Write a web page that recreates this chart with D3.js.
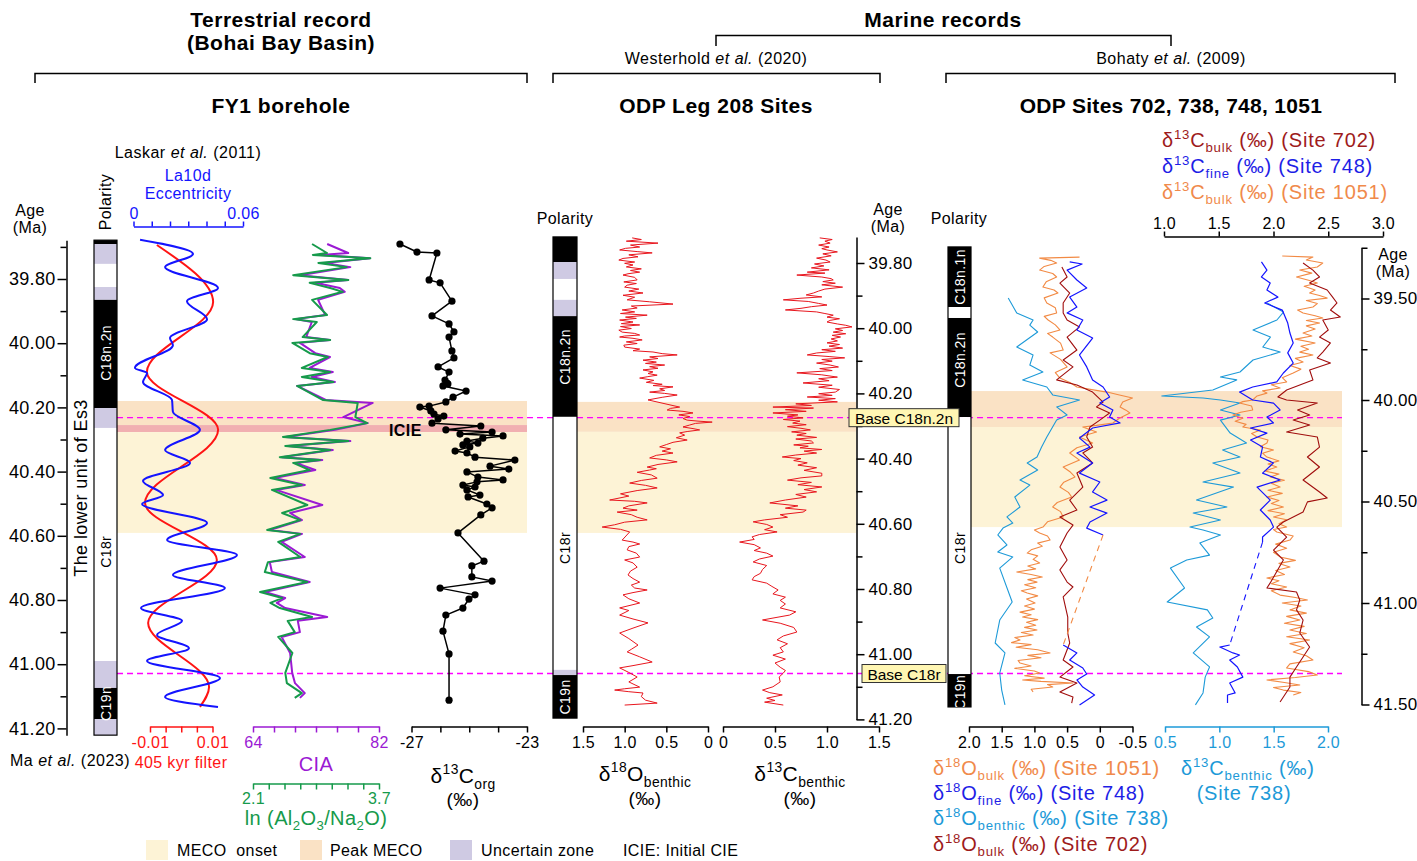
<!DOCTYPE html>
<html><head><meta charset="utf-8">
<script src="https://cdn.jsdelivr.net/npm/d3@7"></script>
<style>body{margin:0;background:#fff;} svg{display:block;}</style>
</head><body>
<script>
const FONT = "'Liberation Sans', Arial, sans-serif";

// ---------------- DATA ----------------
// Left panel (FY1 borehole) – ages in Ma
const eccAge = [39.678,39.722,39.763,39.828,39.869,39.925,39.984,40.006,40.077,40.093,40.121,40.177,40.214,40.270,40.333,40.373,40.429,40.473,40.501,40.560,40.613,40.660,40.722,40.763,40.825,40.865,40.909,40.950,40.990,41.043,41.102,41.133];
const eccVal = [0.0036,0.0326,0.0173,0.0463,0.0293,0.0403,0.0200,0.0216,0.0008,0.0074,0.0052,0.0211,0.0216,0.0364,0.0173,0.0310,0.0052,0.0162,0.0047,0.0403,0.0184,0.0567,0.0216,0.0501,0.0041,0.0266,0.0129,0.0304,0.0074,0.0474,0.0173,0.0463];
const filtAge = [39.694,39.872,40.090,40.270,40.498,40.675,40.872,41.071,41.133];
const filtVal = [-0.0078,0.0102,-0.0110,0.0118,-0.0116,0.0114,-0.0106,0.0089,0.0060];

const ciaAge = [39.691,39.719,39.725,39.735,39.750,39.763,39.788,39.803,39.812,39.828,39.840,39.865,39.912,39.925,39.934,39.981,39.990,39.999,40.031,40.043,40.077,40.090,40.105,40.121,40.133,40.177,40.186,40.230,40.249,40.270,40.292,40.305,40.320,40.333,40.355,40.364,40.373,40.395,40.420,40.442,40.457,40.504,40.529,40.551,40.582,40.594,40.619,40.666,40.682,40.713,40.744,40.775,40.794,40.809,40.825,40.853,40.865,40.900,40.915,40.965,41.027,41.059,41.090,41.105];
const ciaVal = [74.6,77.6,73.6,80.7,74.3,77.9,70.7,77.6,72.9,76.4,77.1,73.3,74.3,70.1,72.4,71.6,75.0,70.7,72.9,75.0,72.1,75.4,72.4,75.7,70.3,74.4,81.1,76.9,80.4,75.7,68.6,77.9,69.0,75.4,68.1,73.9,70.1,72.9,67.1,71.4,67.3,73.9,69.3,71.0,66.4,71.0,68.1,71.4,66.4,66.7,72.1,65.7,68.6,67.4,68.6,74.6,70.4,70.7,68.1,69.3,69.6,70.0,71.4,70.7];
const lnVal = [2.85,3.04,2.86,3.59,2.93,3.29,2.61,3.31,2.82,3.08,3.24,2.85,3.04,2.61,2.91,2.73,3.08,2.60,2.82,3.05,2.72,3.08,2.72,3.12,2.66,2.99,3.43,3.40,3.55,3.08,2.48,3.31,2.51,3.08,2.44,2.95,2.61,2.82,2.32,2.72,2.34,2.79,2.47,2.70,2.28,2.70,2.42,2.70,2.29,2.25,2.79,2.19,2.47,2.32,2.44,2.85,2.54,2.63,2.42,2.60,2.51,2.53,2.72,2.63];

const corgAge = [39.691,39.716,39.719,39.803,39.812,39.869,39.915,39.940,39.965,39.981,40.024,40.046,40.074,40.090,40.115,40.124,40.127,40.133,40.149,40.168,40.183,40.196,40.199,40.211,40.221,40.227,40.236,40.249,40.258,40.270,40.277,40.283,40.289,40.296,40.305,40.311,40.317,40.323,40.336,40.342,40.355,40.364,40.383,40.392,40.401,40.417,40.426,40.432,40.442,40.448,40.457,40.473,40.479,40.501,40.513,40.535,40.591,40.679,40.694,40.728,40.741,40.763,40.784,40.797,40.825,40.847,40.897,40.968,41.112];
const corgVal = [-27.40,-26.81,-26.12,-26.39,-26.01,-25.60,-26.29,-25.70,-25.53,-25.70,-25.60,-25.53,-26.08,-25.70,-25.84,-25.77,-25.74,-25.91,-25.11,-25.56,-25.81,-26.39,-26.71,-26.33,-26.22,-25.88,-26.08,-26.29,-24.60,-25.81,-24.21,-25.32,-23.83,-24.53,-25.08,-24.70,-25.22,-24.98,-25.49,-25.08,-24.80,-23.42,-24.28,-23.63,-25.08,-24.70,-23.83,-24.73,-25.22,-24.80,-25.08,-24.63,-25.04,-24.39,-24.21,-24.60,-25.39,-24.49,-24.91,-24.91,-24.21,-26.01,-24.80,-25.01,-25.22,-25.81,-25.91,-25.70,-25.70];

// Middle panel (ODP Leg 208)
const o18MAge = [39.723,39.728,39.733,39.739,39.745,39.751,39.755,39.760,39.765,39.769,39.775,39.781,39.786,39.791,39.797,39.801,39.806,39.812,39.818,39.823,39.828,39.833,39.837,39.844,39.852,39.858,39.863,39.868,39.874,39.880,39.886,39.892,39.899,39.905,39.913,39.919,39.926,39.932,39.938,39.944,39.950,39.955,39.960,39.966,39.970,39.975,39.981,39.986,39.990,39.995,40.001,40.006,40.012,40.016,40.021,40.024,40.027,40.031,40.036,40.042,40.047,40.052,40.058,40.064,40.069,40.073,40.078,40.082,40.088,40.093,40.098,40.104,40.108,40.113,40.118,40.123,40.128,40.134,40.139,40.144,40.149,40.153,40.160,40.166,40.172,40.176,40.180,40.186,40.191,40.196,40.200,40.205,40.212,40.220,40.242,40.246,40.251,40.255,40.260,40.266,40.271,40.277,40.282,40.285,40.288,40.292,40.297,40.303,40.308,40.312,40.317,40.321,40.328,40.336,40.343,40.350,40.357,40.364,40.370,40.377,40.383,40.390,40.398,40.404,40.410,40.418,40.426,40.431,40.435,40.442,40.450,40.460,40.467,40.475,40.482,40.490,40.498,40.508,40.515,40.527,40.531,40.536,40.545,40.552,40.558,40.564,40.572,40.580,40.588,40.595,40.603,40.610,40.617,40.625,40.650,40.656,40.662,40.670,40.680,40.690,40.702,40.711,40.720,40.733,40.745,40.757,40.768,40.779,40.788,40.797,40.803,40.811,40.818,40.830,40.843,40.858,40.866,40.880,40.892,40.904,40.920,40.935,40.952,40.972,40.985,40.993,41.008,41.024,41.035,41.042,41.056,41.070,41.085,41.101,41.106,41.110,41.115,41.119,41.130,41.141,41.150,41.156];
const o18MVal = [0.91,0.80,0.98,0.60,0.93,0.82,0.99,1.06,0.85,0.67,0.95,0.84,1.02,1.07,0.88,1.00,0.90,0.98,0.80,0.93,0.82,0.96,1.02,0.88,0.85,1.01,0.86,0.97,1.00,0.83,0.95,0.78,1.02,0.88,0.97,0.70,0.42,0.92,0.85,1.03,0.88,1.05,0.73,0.99,0.86,1.06,0.90,1.04,0.82,1.05,0.92,1.07,1.03,0.88,0.82,1.00,1.06,0.90,0.79,0.98,0.85,1.01,1.00,0.82,0.90,0.66,0.55,0.37,0.70,0.60,0.78,0.62,0.75,0.52,0.70,0.60,0.78,0.66,0.72,0.61,0.73,0.82,0.65,0.74,0.55,0.66,0.42,0.58,0.52,0.70,0.52,0.37,0.55,0.72,0.34,0.45,0.49,0.30,0.18,0.35,0.22,0.30,0.25,0.12,-0.05,0.15,0.22,0.30,0.18,0.10,0.25,0.34,0.28,0.38,0.25,0.42,0.50,0.58,0.45,0.55,0.42,0.62,0.70,0.50,0.37,0.60,0.73,0.62,0.70,0.85,0.68,0.61,0.80,0.94,0.75,0.61,0.85,1.05,0.95,1.18,0.88,0.73,0.95,1.02,0.85,1.09,0.92,0.85,0.73,1.00,1.12,1.27,1.05,0.94,1.03,0.90,0.82,0.95,0.97,0.86,0.82,1.00,0.90,0.85,0.93,0.96,0.90,0.82,0.92,0.88,0.73,0.90,1.02,0.95,0.82,1.06,0.95,1.06,0.90,0.72,0.90,1.06,0.95,0.84,0.92,0.97,0.82,0.67,0.90,1.06,0.95,0.85,0.95,0.82,1.00,1.12,0.95,0.78,0.80,0.75,0.61,1.00];
const c13MAge = [39.723,39.728,39.733,39.739,39.745,39.751,39.756,39.760,39.766,39.772,39.778,39.785,39.791,39.797,39.803,39.809,39.815,39.821,39.828,39.831,39.837,39.843,39.848,39.852,39.857,39.862,39.867,39.874,39.880,39.886,39.892,39.898,39.904,39.908,39.913,39.918,39.924,39.929,39.934,39.939,39.944,39.950,39.955,39.960,39.966,39.971,39.976,39.981,39.987,39.991,39.996,40.002,40.007,40.012,40.017,40.022,40.027,40.033,40.039,40.045,40.050,40.055,40.061,40.066,40.071,40.076,40.082,40.087,40.091,40.096,40.101,40.107,40.113,40.119,40.124,40.130,40.137,40.143,40.150,40.155,40.161,40.168,40.175,40.181,40.188,40.196,40.201,40.206,40.211,40.216,40.221,40.226,40.232,40.237,40.242,40.245,40.250,40.255,40.260,40.266,40.270,40.275,40.280,40.285,40.291,40.296,40.302,40.307,40.312,40.318,40.323,40.328,40.335,40.340,40.346,40.352,40.358,40.362,40.367,40.372,40.377,40.383,40.389,40.395,40.400,40.406,40.413,40.420,40.428,40.436,40.445,40.453,40.459,40.466,40.473,40.480,40.487,40.495,40.502,40.510,40.518,40.527,40.536,40.545,40.552,40.558,40.564,40.572,40.580,40.588,40.594,40.602,40.610,40.618,40.625,40.633,40.640,40.648,40.656,40.664,40.674,40.682,40.690,40.699,40.708,40.717,40.728,40.740,40.752,40.762,40.772,40.782,40.792,40.803,40.815,40.825,40.835,40.846,40.858,40.870,40.880,40.888,40.895,40.905,40.918,40.932,40.944,40.956,40.968,40.980,40.993,41.003,41.015,41.027,41.040,41.050,41.058,41.070,41.085,41.100,41.110,41.118,41.125,41.135,41.142,41.147,41.156];
const c13MVal = [0.93,1.05,0.98,1.03,0.92,1.02,0.95,1.00,1.10,0.96,1.04,0.90,0.99,1.03,0.88,0.97,0.85,1.02,0.81,0.98,0.71,0.95,1.04,1.06,0.96,1.08,0.95,1.15,0.98,0.92,0.87,0.80,0.95,0.75,0.58,0.82,0.92,1.00,0.85,0.75,0.60,0.90,0.98,1.06,1.00,1.12,1.03,1.00,1.10,1.18,1.24,1.08,1.15,1.06,1.18,1.05,1.13,1.04,1.10,1.00,1.12,1.02,1.15,0.95,1.08,0.90,0.81,1.02,1.17,0.95,1.05,0.90,1.03,1.11,0.93,1.05,0.71,0.95,1.10,0.92,1.02,0.77,1.05,0.92,1.12,1.08,0.92,1.05,0.81,1.08,0.92,1.10,0.70,0.85,0.48,0.87,0.60,0.80,0.48,0.72,0.62,0.77,0.58,0.74,0.67,0.80,0.62,0.75,0.84,0.66,0.80,0.71,0.90,0.70,0.85,0.87,0.68,0.82,0.74,0.95,0.78,0.90,0.70,0.57,0.75,0.68,0.81,0.72,0.90,0.78,0.95,0.95,0.75,0.62,0.85,0.72,0.95,0.78,0.90,0.70,0.80,0.60,0.45,0.72,0.60,0.80,0.77,0.55,0.62,0.40,0.29,0.42,0.48,0.40,0.52,0.35,0.28,0.30,0.16,0.30,0.36,0.30,0.42,0.48,0.35,0.29,0.42,0.38,0.36,0.30,0.28,0.42,0.47,0.53,0.48,0.60,0.55,0.60,0.55,0.70,0.64,0.50,0.38,0.55,0.68,0.71,0.58,0.52,0.62,0.55,0.58,0.48,0.60,0.50,0.55,0.60,0.58,0.54,0.55,0.48,0.38,0.45,0.57,0.42,0.50,0.40,0.58];

// Right panel (ODP Sites 702, 738, 748, 1051)
const o18_738Age = [39.498,39.571,39.606,39.631,39.665,39.739,39.778,39.828,39.862,39.901,39.936,39.975,40.000,40.034,40.074,40.099,40.182,40.232,40.281,40.310,40.345,40.394,40.419,40.478,40.527,40.576,40.606,40.631,40.665,40.714,40.749,40.773,40.828,40.995,41.084,41.197,41.246,41.345,41.429,41.502];
const o18_738 = [1.40,1.27,1.02,1.07,0.95,1.27,1.02,1.07,0.87,1.18,0.81,0.72,0.31,0.66,0.50,0.66,0.81,0.89,0.96,1.11,0.95,1.22,1.07,1.30,1.22,1.42,1.33,1.48,1.56,1.42,1.56,1.33,1.53,1.34,1.53,1.60,1.45,1.53,1.50,1.45];
const o18_1051Age = [39.296,39.301,39.312,39.325,39.342,39.360,39.377,39.394,39.418,39.443,39.458,39.473,39.497,39.522,39.546,39.571,39.588,39.606,39.630,39.655,39.672,39.690,39.720,39.754,39.768,39.800,39.837,39.865,39.892,39.915,39.936,39.950,39.961,39.975,39.990,40.010,40.034,40.050,40.064,40.090,40.113,40.125,40.133,40.158,40.182,40.212,40.235,40.261,40.296,40.330,40.355,40.379,40.405,40.429,40.455,40.478,40.505,40.527,40.550,40.576,40.600,40.626,40.640,40.655,40.670,40.690,40.705,40.720,40.738,40.754,40.768,40.785,40.803,40.818,40.832,40.847,40.860,40.872,40.885,40.897,40.910,40.925,40.940,40.951,40.965,40.980,41.000,41.015,41.030,41.045,41.058,41.069,41.082,41.095,41.110,41.120,41.133,41.145,41.158,41.170,41.182,41.195,41.205,41.218,41.230,41.246,41.258,41.270,41.283,41.296,41.310,41.322,41.335,41.345,41.358,41.370,41.379,41.386,41.394,41.402,41.414,41.425,41.438];
const o18_1051 = [0.31,0.92,0.75,0.66,0.85,0.92,0.72,0.66,0.82,0.87,0.70,0.64,0.85,0.81,0.68,0.66,0.85,0.79,0.68,0.61,0.80,0.72,0.60,0.56,0.76,0.60,0.50,0.68,0.61,0.45,0.35,0.10,-0.11,-0.30,-0.50,-0.35,-0.31,-0.40,-0.46,-0.30,-0.20,0.05,0.26,0.05,0.31,0.11,0.35,0.46,0.31,0.56,0.45,0.38,0.55,0.61,0.48,0.43,0.65,0.72,0.60,0.56,0.80,0.87,1.00,0.92,0.80,0.76,0.95,0.88,1.05,1.11,0.95,1.02,0.92,1.10,0.98,1.27,1.05,0.88,1.10,0.96,1.15,0.98,1.20,1.11,0.95,1.12,0.99,1.15,1.00,1.22,1.05,1.18,0.95,1.12,0.98,1.15,0.96,1.20,1.02,1.30,1.22,1.35,1.05,1.28,0.95,0.76,1.10,0.90,1.25,1.22,1.05,1.30,1.00,0.92,1.15,0.85,1.18,0.90,0.41,0.80,0.72,1.05,1.02];
const o18_702Age = [39.345,39.394,39.424,39.473,39.522,39.571,39.606,39.640,39.690,39.754,39.803,39.837,39.901,39.926,39.961,40.010,40.034,40.064,40.099,40.133,40.182,40.232,40.261,40.310,40.360,40.429,40.493,40.542,40.576,40.616,40.655,40.724,40.788,40.837,40.897,40.921,40.970,41.069,41.148,41.197,41.281,41.315,41.365,41.394,41.438,41.463,41.493];
const o18_702 = [0.58,0.50,0.61,0.46,0.56,0.56,0.50,0.31,0.50,0.35,0.56,0.41,0.66,0.35,0.11,-0.05,0.05,-0.15,0.00,0.15,0.20,0.11,0.26,0.11,0.35,0.26,0.46,0.35,0.61,0.41,0.50,0.61,0.50,0.61,0.50,0.41,0.56,0.49,0.49,0.46,0.56,0.41,0.61,0.35,0.61,0.41,0.43];
const o18_748Age = [39.320,39.330,39.360,39.409,39.448,39.493,39.542,39.571,39.606,39.655,39.695,39.778,39.837,39.901,39.936,39.985,40.015,40.049,40.084,40.113,40.138,40.187,40.232,40.261,40.310,40.360,40.404,40.453,40.493,40.527,40.557,40.601,40.631,40.665,40.900,41.207,41.246,41.281,41.320,41.350,41.379,41.414,41.453,41.502];
const o18_748 = [0.46,0.27,0.50,0.35,0.20,0.46,0.35,0.50,0.26,0.35,0.11,0.31,0.20,0.11,-0.05,-0.15,0.00,-0.20,-0.15,-0.31,0.11,0.31,0.15,0.35,0.11,0.31,0.00,0.11,-0.11,0.15,-0.11,0.15,0.20,-0.05,null,0.56,0.35,0.46,0.26,0.20,0.35,0.26,0.08,0.31];
const c13_748Age = [39.320,39.360,39.394,39.424,39.458,39.493,39.522,39.557,39.621,39.670,39.719,39.768,39.818,39.867,39.911,39.936,39.961,40.000,40.015,40.049,40.084,40.113,40.138,40.163,40.197,40.232,40.281,40.310,40.360,40.394,40.429,40.493,40.542,40.591,40.626,40.675,40.700,40.900,41.207,41.217,41.246,41.256,41.281,41.315,41.365,41.394,41.443,41.453,41.493];
const c13_748 = [1.89,1.94,1.89,1.97,1.94,2.04,1.92,2.08,2.13,2.15,2.18,2.13,2.18,2.09,2.03,1.81,1.69,1.81,2.00,2.06,1.94,2.00,1.79,1.94,1.79,1.90,1.88,2.00,1.90,2.06,1.85,1.97,1.88,1.97,2.00,1.90,1.90,null,1.60,1.51,1.63,1.69,1.60,1.67,1.72,1.60,1.65,1.58,1.58];
const c13_738Age = [39.522,39.567,39.606,39.655,39.690,39.739,39.764,39.803,39.862,39.887,39.901,39.951,39.980,39.990,40.000,40.015,40.049,40.074,40.099,40.163,40.212,40.246,40.281,40.310,40.360,40.404,40.429,40.493,40.527,40.557,40.591,40.626,40.640,40.665,40.704,40.764,40.788,40.828,40.926,40.995,41.034,41.074,41.118,41.167,41.246,41.315,41.365,41.443,41.502];
const c13_738 = [1.44,1.59,1.53,1.31,1.47,1.40,1.56,1.31,1.19,1.01,1.16,0.94,0.47,0.85,1.01,1.19,1.01,1.19,1.01,1.10,1.25,1.03,1.19,0.94,1.19,0.85,1.13,0.79,1.07,0.76,1.01,0.73,0.85,1.01,0.82,0.91,0.70,0.55,0.68,0.52,0.89,0.94,0.79,0.91,0.76,0.91,0.87,0.85,0.78];
const c13_1051Age = [39.291,39.296,39.310,39.325,39.345,39.360,39.375,39.394,39.410,39.424,39.440,39.458,39.473,39.485,39.498,39.510,39.525,39.542,39.557,39.571,39.585,39.596,39.608,39.621,39.635,39.650,39.670,39.685,39.700,39.719,39.735,39.750,39.764,39.778,39.795,39.813,39.830,39.848,39.867,39.890,39.911,39.925,39.941,39.955,39.966,39.980,40.000,40.008,40.015,40.030,40.049,40.060,40.074,40.090,40.105,40.120,40.133,40.148,40.165,40.182,40.197,40.212,40.230,40.246,40.262,40.281,40.300,40.315,40.330,40.350,40.365,40.379,40.395,40.410,40.429,40.445,40.460,40.478,40.495,40.510,40.527,40.545,40.560,40.576,40.590,40.610,40.626,40.638,40.650,40.670,40.690,40.710,40.730,40.750,40.773,40.790,40.805,40.823,40.840,40.860,40.877,40.890,40.905,40.921,40.940,40.961,40.973,40.985,41.000,41.015,41.034,41.050,41.066,41.084,41.100,41.115,41.133,41.150,41.166,41.182,41.200,41.220,41.241,41.260,41.281,41.300,41.320,41.338,41.355,41.367,41.379,41.392,41.404,41.416,41.429,41.441,41.453];
const c13_1051 = [2.08,2.36,2.30,2.45,2.40,2.24,2.35,2.21,2.32,2.40,2.28,2.38,2.33,2.42,2.49,2.30,2.40,2.36,2.22,2.27,2.38,2.45,2.30,2.42,2.30,2.38,2.27,2.35,2.20,2.38,2.25,2.32,2.24,2.36,2.20,2.27,2.15,2.25,2.18,2.08,2.12,1.98,2.06,1.90,1.94,1.85,1.81,1.72,1.69,1.80,1.81,1.70,1.63,1.72,1.65,1.75,1.72,1.88,1.80,1.85,1.95,1.94,1.88,2.00,1.90,1.94,2.05,1.95,2.03,1.92,2.05,1.97,2.10,1.98,2.06,1.95,2.08,1.94,2.05,1.98,2.09,1.95,2.10,2.00,2.12,2.05,2.12,2.00,2.03,2.18,2.15,2.02,2.12,2.00,2.06,2.20,2.05,2.15,2.02,2.10,1.94,2.05,1.98,2.12,1.98,2.06,2.20,2.31,2.08,2.25,2.15,2.30,2.12,2.24,2.10,2.28,2.15,2.30,2.12,2.33,2.15,2.28,2.18,2.30,2.36,2.15,2.12,2.32,2.40,2.20,1.94,2.10,2.24,2.00,2.09,2.25,2.18];
const c13_702Age = [39.325,39.360,39.394,39.424,39.458,39.493,39.522,39.557,39.591,39.606,39.655,39.690,39.719,39.764,39.793,39.818,39.852,39.901,39.951,39.985,40.000,40.015,40.049,40.074,40.099,40.123,40.158,40.182,40.232,40.281,40.330,40.394,40.453,40.483,40.502,40.552,40.601,40.626,40.675,40.739,40.788,40.901,40.926,40.946,40.985,41.034,41.084,41.148,41.217,41.266,41.315,41.365,41.414,41.488];
const c13_702 = [2.27,2.36,2.42,2.33,2.49,2.54,2.58,2.52,2.61,2.45,2.50,2.42,2.52,2.45,2.40,2.52,2.33,2.36,2.12,2.04,2.12,2.40,2.22,2.33,2.18,2.33,2.12,2.40,2.42,2.31,2.42,2.27,2.42,2.49,2.31,2.27,2.09,2.03,2.12,2.00,2.09,1.97,1.94,2.21,2.24,2.21,2.27,2.24,2.33,2.27,2.21,2.15,2.15,2.06];
// gap connectors (Site 748)
const gapO18Age = [40.665, 41.207], gapO18Val = [-0.05, 0.56];
const gapC13Age = [40.700, 41.207], gapC13Val = [1.90, 1.60];

// Polarity columns: [topAge, bottomAge, type]  n=normal, r=reversed, u=uncertain
const polL = [[39.679,39.691,"n"],[39.691,39.753,"u"],[39.753,39.825,"r"],[39.825,39.865,"u"],[39.865,40.202,"n"],[40.202,40.264,"u"],[40.264,40.990,"r"],[40.990,41.074,"u"],[41.074,41.171,"n"],[41.171,41.221,"u"]];
const polM = [[39.720,39.797,"n"],[39.797,39.849,"u"],[39.849,39.913,"r"],[39.913,39.963,"u"],[39.963,40.272,"n"],[40.272,41.048,"r"],[41.048,41.064,"u"],[41.064,41.196,"n"]];
const polR = [[39.246,39.542,"n"],[39.542,39.596,"r"],[39.596,40.084,"n"],[40.084,41.350,"r"],[41.350,41.512,"n"]];
const chronL = [["C18n.2n",40.03,"n"],["C18r",40.65,"r"],["C19n",41.122,"n"]];
const chronM = [["C18n.2n",40.088,"n"],["C18r",40.674,"r"],["C19n",41.131,"n"]];
const chronR = [["C18n.1n",39.394,"n"],["C18n.2n",39.803,"n"],["C18r",40.729,"r"],["C19n",41.44,"n"]];

// Shaded intervals per panel
const bandsL = [[40.180,40.255,"peak"],[40.255,40.277,"icie"],[40.277,40.591,"onset"]];
const bandsM = [[40.226,40.318,"peak"],[40.318,40.628,"onset"]];
const bandsR = [[39.956,40.133,"peak"],[40.133,40.626,"onset"]];
const baseAgesL = [40.232, 41.029];  // magenta boundaries in FY1 age frame
const baseLabels = ["Base C18n.2n", "Base C18r"];

const ageTicks = [39.8,40.0,40.2,40.4,40.6,40.8,41.0,41.2];
const ageMinorL = [39.7,39.9,40.1,40.3,40.5,40.7,40.9,41.1];
const ageMinorM = [39.9,40.1,40.3,40.5,40.7,40.9,41.1];
const ageTicksR = [39.5,40.0,40.5,41.0,41.5];
const ageMinorR = [39.25,39.75,40.25,40.75,41.25];

// ---------------- DRAW ----------------
const COL = {onset:"#fdf3d6", peak:"#fae2c5", u:"#cfcae3", icie:"#f1afb1", mag:"#ff00ff",
  ecc:"#1414ff", filt:"#ff1414", cia:"#9b1ad3", ln:"#169a4b", red:"#e8161e",
  dred:"#a00d0d", orange:"#f28a44", blue:"#1414ff", lblue:"#1d9ad8"};

const svg = d3.select("body").append("svg").attr("width",1417).attr("height",861)
  .attr("font-family",FONT);

const yL = d3.scaleLinear().domain([39.8,41.2]).range([279,728.4]);
const yM = d3.scaleLinear().domain([39.8,41.2]).range([263,719.4]);
const yR = d3.scaleLinear().domain([40.0,41.5]).range([400,704.5]);

const xEcc = d3.scaleLinear().domain([0,0.06]).range([133.5,243]);
const xFilt = d3.scaleLinear().domain([-0.01,0.01]).range([150,212.5]);
const xCIA = d3.scaleLinear().domain([64,82]).range([253,379]);
const xLn = d3.scaleLinear().domain([2.1,3.7]).range([253,379]);
const xCorg = d3.scaleLinear().domain([-27,-23]).range([411.5,527]);
const xO18M = d3.scaleLinear().domain([1.5,0]).range([583,708]);
const xC13M = d3.scaleLinear().domain([0,1.5]).range([723,879]);
const xO18R = d3.scaleLinear().domain([2.0,-0.5]).range([969,1132.5]);
const xC13T = d3.scaleLinear().domain([1,3]).range([1164,1383]);
const xC13B = d3.scaleLinear().domain([0.5,2.0]).range([1165,1328]);

function bands(list, ys, x0, x1){
  list.forEach(([a,b,k])=>{
    svg.append("rect").attr("x",x0).attr("y",ys(a)).attr("width",x1-x0).attr("height",ys(b)-ys(a)).attr("fill",COL[k]);
  });
}
bands(bandsL, yL, 117, 527);
bands(bandsM, yM, 577, 856);
bands(bandsR, yR, 971, 1342);

baseAgesL.forEach(a=>{
  svg.append("line").attr("x1",117).attr("x2",1342).attr("y1",yL(a)).attr("y2",yL(a))
    .attr("stroke",COL.mag).attr("stroke-width",1.3).attr("stroke-dasharray","6,4");
});

function polarity(list, chrons, ys, x, w, id){
  const g = svg.append("g");
  const top = ys(list[0][0]), bot = ys(list[list.length-1][1]);
  svg.append("clipPath").attr("id",id).append("rect").attr("x",x).attr("y",top).attr("width",w).attr("height",bot-top);
  list.forEach(([a,b,k])=>{
    g.append("rect").attr("x",x).attr("y",ys(a)).attr("width",w).attr("height",ys(b)-ys(a))
      .attr("fill", k==="n"?"#000":k==="u"?COL.u:"#fff");
  });
  g.append("rect").attr("x",x).attr("y",top).attr("width",w).attr("height",bot-top)
    .attr("fill","none").attr("stroke","#000").attr("stroke-width",1.2);
  const tg = g.append("g").attr("clip-path",`url(#${id})`);
  chrons.forEach(([t,a,k])=>{
    tg.append("text").attr("transform",`translate(${x+w/2+5},${ys(a)}) rotate(-90)`)
      .attr("text-anchor","middle").attr("font-size",14).attr("letter-spacing",0.4)
      .attr("fill",k==="n"?"#fff":"#000").text(t);
  });
}
polarity(polL, chronL, yL, 94, 23, "cpL");
polarity(polM, chronM, yM, 553, 24, "cpM");
polarity(polR, chronR, yR, 948, 23, "cpR");

function series(ages, vals, xs, ys, color, width, curve, dash){
  const pts = ages.map((a,i)=>[a, vals[i]]);
  const line = d3.line().defined(d=>d[1]!==null).x(d=>xs(d[1])).y(d=>ys(d[0])).curve(curve||d3.curveLinear);
  const p = svg.append("path").attr("d",line(pts)).attr("fill","none").attr("stroke",color)
    .attr("stroke-width",width).attr("stroke-linejoin","round");
  if(dash) p.attr("stroke-dasharray",dash);
  return p;
}
series(filtAge, filtVal, xFilt, yL, COL.filt, 2, d3.curveMonotoneY);
series(eccAge, eccVal, xEcc, yL, COL.ecc, 2, d3.curveMonotoneY);
series(ciaAge, ciaVal, xCIA, yL, COL.cia, 2);
series(ciaAge, lnVal, xLn, yL, COL.ln, 2);
series(corgAge, corgVal, xCorg, yL, "#000", 1.5);
svg.append("g").selectAll("circle").data(corgAge.map((a,i)=>[a,corgVal[i]])).join("circle")
  .attr("cx",d=>xCorg(d[1])).attr("cy",d=>yL(d[0])).attr("r",3.6).attr("fill","#000");

series(o18MAge, o18MVal, xO18M, yM, COL.red, 1);
series(c13MAge, c13MVal, xC13M, yM, COL.red, 1);

series(o18_738Age, o18_738, xO18R, yR, COL.lblue, 1.1);
series(o18_1051Age, o18_1051, xO18R, yR, COL.orange, 1.1);
series(o18_702Age, o18_702, xO18R, yR, COL.dred, 1.1);
series(o18_748Age, o18_748, xO18R, yR, COL.blue, 1.2);
series(gapO18Age, gapO18Val, xO18R, yR, COL.orange, 1.1, null, "6,5");
series(c13_738Age, c13_738, xC13B, yR, COL.lblue, 1.1);
series(c13_1051Age, c13_1051, xC13T, yR, COL.orange, 1.1);
series(c13_702Age, c13_702, xC13T, yR, COL.dred, 1.1);
series(c13_748Age, c13_748, xC13T, yR, COL.blue, 1.2);
series(gapC13Age, gapC13Val, xC13T, yR, COL.blue, 1.1, null, "6,5");

function addAxis(axis, tx, ty, color, fs, noDomain){
  const g = svg.append("g").attr("transform",`translate(${tx},${ty})`).call(axis);
  g.attr("font-family",FONT).attr("font-size",fs);
  g.select(".domain").attr("stroke",color).attr("stroke-width",1.5);
  if(noDomain) g.select(".domain").remove();
  g.selectAll(".tick line").attr("stroke",color).attr("stroke-width",1.5);
  g.selectAll(".tick text").attr("fill",color).attr("letter-spacing",0.3);
  return g;
}
const hy = v => (v<0?"-":"") + Math.abs(v);
const yLax = d3.scaleLinear().domain([39.679,41.221]).range([yL(39.679),yL(41.221)]);
addAxis(d3.axisLeft(yLax).tickValues(ageTicks).tickFormat(d3.format(".2f")).tickSize(9).tickPadding(2).tickSizeOuter(0),66.5,0,"#000",18);
addAxis(d3.axisLeft(yLax).tickValues(ageMinorL).tickFormat("").tickSize(6).tickSizeOuter(0),66.5,0,"#000",18,true);
const yMax = d3.scaleLinear().domain([39.72,41.2]).range([yM(39.72),yM(41.2)]);
addAxis(d3.axisRight(yMax).tickValues(ageTicks).tickFormat(d3.format(".2f")).tickSize(8).tickPadding(4).tickSizeOuter(0),856.5,0,"#000",17);
addAxis(d3.axisRight(yMax).tickValues(ageMinorM).tickFormat("").tickSize(6).tickSizeOuter(0),856.5,0,"#000",17,true);
const yRax = d3.scaleLinear().domain([39.25,41.5]).range([yR(39.25),yR(41.5)]);
addAxis(d3.axisRight(yRax).tickValues(ageTicksR).tickFormat(d3.format(".2f")).tickSize(8).tickPadding(4).tickSizeOuter(0),1361.5,0,"#000",17);
addAxis(d3.axisRight(yRax).tickValues(ageMinorR).tickFormat("").tickSize(6).tickSizeOuter(0),1361.5,0,"#000",17,true);

const endsOnly = (ticks, fmt) => (d,i) => (i===0||i===ticks.length-1) ? fmt(d) : "";
const eccT = [0,0.01,0.02,0.03,0.04,0.05,0.06];
addAxis(d3.axisTop(xEcc).tickValues(eccT).tickFormat(endsOnly(eccT,d=>d===0?"0":"0.06")).tickSize(5).tickPadding(3).tickSizeOuter(0),0,226.5,COL.ecc,16);
const filtT = [-0.01,-0.005,0,0.005,0.01];
addAxis(d3.axisBottom(xFilt).tickValues(filtT).tickFormat(endsOnly(filtT,d=>d<0?"-0.01":"0.01")).tickSize(6).tickPadding(4).tickSizeOuter(0),0,726.5,COL.filt,16);
const ciaT = [64,67,70,73,76,79,82];
addAxis(d3.axisBottom(xCIA).tickValues(ciaT).tickFormat(endsOnly(ciaT,d=>String(d))).tickSize(6).tickPadding(4).tickSizeOuter(0),0,726.5,COL.cia,16);
const lnT = [2.1,2.3,2.5,2.7,2.9,3.1,3.3,3.5,3.7];
addAxis(d3.axisBottom(xLn).tickValues(lnT).tickFormat(endsOnly(lnT,d=>d.toFixed(1))).tickSize(6).tickPadding(3).tickSizeOuter(0),0,783.5,COL.ln,16);
const corgT = [-27,-26,-25,-24,-23];
addAxis(d3.axisBottom(xCorg).tickValues(corgT).tickFormat(endsOnly(corgT,hy)).tickSize(6).tickPadding(4).tickSizeOuter(0),0,726.5,"#000",16);
addAxis(d3.axisBottom(xO18M).tickValues([1.5,1.0,0.5,0]).tickFormat(d=>d===0?"0":d.toFixed(1)).tickSize(6).tickPadding(4).tickSizeOuter(0),0,726.5,"#000",16);
addAxis(d3.axisBottom(xC13M).tickValues([0,0.5,1.0,1.5]).tickFormat(d=>d===0?"0":d.toFixed(1)).tickSize(6).tickPadding(4).tickSizeOuter(0),0,726.5,"#000",16);
addAxis(d3.axisBottom(xO18R).tickValues([2.0,1.5,1.0,0.5,0,-0.5]).tickFormat(d=>d===0?"0":(d<0?"-":"")+Math.abs(d).toFixed(1)).tickSize(6).tickPadding(4).tickSizeOuter(0),0,726.5,"#000",16);
addAxis(d3.axisBottom(xC13B).tickValues([0.5,1.0,1.5,2.0]).tickFormat(d=>d.toFixed(1)).tickSize(6).tickPadding(4).tickSizeOuter(0),0,726.5,COL.lblue,16);
addAxis(d3.axisTop(xC13T).tickValues([1.0,1.5,2.0,2.5,3.0]).tickFormat(d=>d.toFixed(1)).tickSize(5).tickPadding(3).tickSizeOuter(0),0,236.5,"#000",16);

baseAgesL.forEach((a,i)=>{
  const y = yL(a);
  const x0 = i===0 ? 849 : 862, w = i===0 ? 110 : 84;
  svg.append("rect").attr("x",x0).attr("y",y-9).attr("width",w).attr("height",18)
    .attr("fill","#fff6b3").attr("stroke","#333").attr("stroke-width",1);
  svg.append("text").attr("x",x0+w/2).attr("y",y+6).attr("text-anchor","middle")
    .attr("font-size",15.5).text(baseLabels[i]);
});

// ---------------- TEXT ----------------
function txt(x,y,s,o={}){
  const size=o.size||16;
  const t = svg.append("text").attr("x",x).attr("y",y).attr("font-size",size)
    .attr("fill",o.color||"#000").attr("text-anchor",o.anchor||"start")
    .attr("letter-spacing", o.ls!==undefined ? o.ls : 0.4);
  if(o.bold) t.attr("font-weight","bold");
  if(o.rot!==undefined) t.attr("transform",`rotate(${o.rot},${x},${y})`);
  if(Array.isArray(s)){
    let cur=0;
    s.forEach(p=>{
      const [str,kind] = Array.isArray(p)?p:[p,null];
      const tgt = kind==="sup" ? -0.42*size : kind==="sub" ? 0.27*size : 0;
      const ts = t.append("tspan").attr("dy",tgt-cur).text(str);
      if(kind) ts.attr("font-size",size*0.66);
      cur = tgt;
    });
  } else t.text(s);
  return t;
}
function itText(x,y,pre,it,post,o={}){
  const t = svg.append("text").attr("x",x).attr("y",y).attr("font-size",o.size||16)
    .attr("text-anchor",o.anchor||"start").attr("fill",o.color||"#000").attr("letter-spacing",0.5);
  t.append("tspan").text(pre);
  t.append("tspan").attr("font-style","italic").text(it);
  t.append("tspan").text(post);
}
txt(281,27,"Terrestrial record",{size:21,bold:true,anchor:"middle",ls:0.5});
txt(281,50,"(Bohai Bay Basin)",{size:21,bold:true,anchor:"middle",ls:0.5});
txt(943,27,"Marine records",{size:21,bold:true,anchor:"middle",ls:0.5});
itText(716,64,"Westerhold ","et al."," (2020)",{size:16,anchor:"middle"});
itText(1171,64,"Bohaty ","et al."," (2009)",{size:16,anchor:"middle"});
const br = (d)=>svg.append("path").attr("d",d).attr("fill","none").attr("stroke","#000").attr("stroke-width",1.5);
br("M35,83V73.5H527V83"); br("M553,83V73.5H880V83"); br("M946,83V73.5H1395V83"); br("M716,46V35.5H1171V46");
txt(281,113,"FY1 borehole",{size:21,bold:true,anchor:"middle",ls:0.5});
txt(716,113,"ODP Leg 208 Sites",{size:21,bold:true,anchor:"middle",ls:0.5});
txt(1171,113,"ODP Sites 702, 738, 748, 1051",{size:21,bold:true,anchor:"middle",ls:0.3});

itText(188,158,"Laskar ","et al."," (2011)",{size:16,anchor:"middle"});
txt(188,181,"La10d",{size:16,anchor:"middle",color:COL.ecc});
txt(188,199,"Eccentricity",{size:16,anchor:"middle",color:COL.ecc});
txt(30,216,"Age",{size:16,anchor:"middle"});
txt(30,233,"(Ma)",{size:16,anchor:"middle"});
txt(111,202,"Polarity",{size:16,anchor:"middle",rot:-90});
txt(87,488,"The lower unit of Es3",{size:18,anchor:"middle",rot:-90});
txt(389,436,"ICIE",{size:16,bold:true});
itText(10,766,"Ma ","et al."," (2023)",{size:16});
txt(181,768,"405 kyr filter",{size:16,anchor:"middle",color:COL.filt});
txt(316,771,"CIA",{size:20,anchor:"middle",color:COL.cia});
txt(316,825,["ln (Al",["2","sub"],"O",["3","sub"],"/Na",["2","sub"],"O)"],{size:20,anchor:"middle",color:COL.ln});
txt(463,783,["δ",["13","sup"],"C",["org","sub"]],{size:21,anchor:"middle"});
txt(463,806,"(‰)",{size:19,anchor:"middle"});

txt(565,224,"Polarity",{size:16,anchor:"middle"});
txt(888,215,"Age",{size:16,anchor:"middle"});
txt(888,232,"(Ma)",{size:16,anchor:"middle"});
txt(645,781,["δ",["18","sup"],"O",["benthic","sub"]],{size:21,anchor:"middle"});
txt(645,805,"(‰)",{size:19,anchor:"middle"});
txt(800,781,["δ",["13","sup"],"C",["benthic","sub"]],{size:21,anchor:"middle"});
txt(800,805,"(‰)",{size:19,anchor:"middle"});

txt(959,224,"Polarity",{size:16,anchor:"middle"});
txt(1393,260,"Age",{size:16,anchor:"middle"});
txt(1393,277,"(Ma)",{size:16,anchor:"middle"});
txt(1162,147,["δ",["13","sup"],"C",["bulk","sub"]," (‰) (Site 702)"],{size:20,color:"#9e1b1b",ls:0.8});
txt(1162,173,["δ",["13","sup"],"C",["fine","sub"]," (‰) (Site 748)"],{size:20,color:"#1e1ee6",ls:0.8});
txt(1162,199,["δ",["13","sup"],"C",["bulk","sub"]," (‰) (Site 1051)"],{size:20,color:"#f08a4b",ls:0.8});
txt(933,775,["δ",["18","sup"],"O",["bulk","sub"]," (‰) (Site 1051)"],{size:20,color:"#f08a4b",ls:0.8});
txt(933,800,["δ",["18","sup"],"O",["fine","sub"]," (‰) (Site 748)"],{size:20,color:"#1e1ee6",ls:0.8});
txt(933,825,["δ",["18","sup"],"O",["benthic","sub"]," (‰) (Site 738)"],{size:20,color:COL.lblue,ls:0.8});
txt(933,851,["δ",["18","sup"],"O",["bulk","sub"]," (‰) (Site 702)"],{size:20,color:"#9e1b1b",ls:0.8});
txt(1181,775,["δ",["13","sup"],"C",["benthic","sub"]," (‰)"],{size:20,color:COL.lblue,ls:0.8});
txt(1244,800,"(Site 738)",{size:20,anchor:"middle",color:COL.lblue,ls:0.8});

const leg = [[146,177,"onset","MECO  onset"],[300,330,"peak","Peak MECO"],[450,481,"u","Uncertain zone"]];
leg.forEach(([sx,tx,k,s])=>{
  svg.append("rect").attr("x",sx).attr("y",840).attr("width",22).attr("height",20).attr("fill",COL[k]);
  txt(tx,856,s,{size:16}).attr("xml:space","preserve");
});
txt(623,856,"ICIE: Initial CIE",{size:16});
</script>
</body></html>
